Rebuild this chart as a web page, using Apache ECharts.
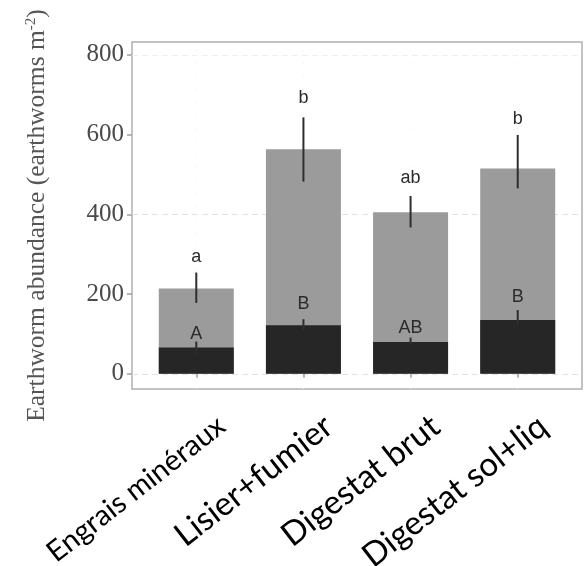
<!DOCTYPE html>
<html>
<head>
<meta charset="utf-8">
<script src="https://cdn.jsdelivr.net/npm/echarts@6/dist/echarts.min.js"></script>
<style>
  html, body { margin: 0; padding: 0; background: #ffffff; }
  #chart { width: 586px; height: 566px; }
</style>
</head>
<body>
<div id="chart"></div>
<script>
// Fertilisation treatments
const categories = ['Engrais minéraux', 'Lisier+fumier', 'Digestat brut', 'Digestat sol+liq'];

// Total earthworm abundance (light bars) with interval bounds
const totalMean = [214, 563, 405, 515];
const totalLow = [178, 482, 367, 465];
const totalHigh = [254, 643, 446, 599];
const totalLetters = ['a', 'b', 'ab', 'b'];
const totalLetterAt = [293, 691, 490, 640];

// Sub-group abundance (dark bars) with interval bounds
const groupMean = [66, 122, 80, 135];
const groupLow = [51, 110, 73, 122];
const groupHigh = [81, 137, 91, 160];
const groupLetters = ['A', 'B', 'AB', 'B'];
const groupLetterAt = [101, 175, 116, 193];

// Y-axis tick labels
const yTicks = [0, 200, 400, 600, 800];

const catPos = categories.map((_, i) => i + 1);

function pairs(vals) { return vals.map((v, i) => [catPos[i], v]); }

function errorBars(low, high) {
  return low.map((l, i) => [catPos[i], l, high[i]]);
}

function letterData(letters, at) {
  return letters.map((t, i) => [catPos[i], at[i], t]);
}

const chart = echarts.init(document.getElementById('chart'));

const errorRender = function (params, api) {
  const a = api.coord([api.value(0), api.value(1)]);
  const b = api.coord([api.value(0), api.value(2)]);
  return {
    type: 'line',
    shape: { x1: a[0], y1: a[1], x2: b[0], y2: b[1] },
    style: { stroke: '#2e2e2e', lineWidth: 2 }
  };
};

const letterRender = function (params, api) {
  const p = api.coord([api.value(0), api.value(1)]);
  return {
    type: 'text',
    x: p[0], y: p[1],
    style: {
      text: String(api.value(2)),
      fill: '#2b2b2b',
      font: '18px "Liberation Sans", Arial, sans-serif',
      align: 'center',
      verticalAlign: 'middle'
    }
  };
};

function buildOption(barW) {
  return {
    animation: false,
    backgroundColor: '#ffffff',
    grid: {
      left: 132, top: 42, right: 4, bottom: 177,
      outerBoundsMode: 'none',
      containLabel: false,
      show: true, borderColor: '#b0b0b0', borderWidth: 1.5, backgroundColor: 'transparent'
    },
    xAxis: {
      type: 'value', min: 0.4, max: 4.6,
      axisLine: { show: false },
      splitLine: { show: false },
      axisTick: {
        show: true, customValues: catPos, length: 4, inside: false,
        lineStyle: { color: '#a0a0a0', width: 1.5 }
      },
      axisLabel: {
        customValues: catPos,
        rotate: 38,
        margin: 53,
        align: 'right',
        verticalAlign: 'middle',
        padding: [0, -32, 0, 0],
        formatter: function (v) {
          const name = categories[Math.round(v) - 1];
          return Math.round(v) === 1 ? '{s|' + name + '}' : '{b|' + name + '}';
        },
        rich: {
          s: { fontFamily: 'Lato', fontSize: 29, color: '#000000' },
          b: { fontFamily: 'Lato', fontSize: 33, color: '#000000' }
        }
      }
    },
    yAxis: {
      type: 'value', min: -38, max: 832,
      axisLine: { show: false },
      splitLine: { show: false },
      axisTick: {
        show: true, customValues: yTicks, length: 5,
        lineStyle: { color: '#a0a0a0', width: 1.5 }
      },
      axisLabel: {
        customValues: yTicks,
        margin: 8,
        fontFamily: 'Liberation Serif', fontSize: 25, color: '#4a4a4a'
      },
      name: '{n|Earthworm abundance (earthworms m}{s|-2}{n|)}',
      nameLocation: 'middle',
      nameRotate: 90,
      nameGap: 82,
      nameTextStyle: {
        rich: {
          n: { fontFamily: 'Liberation Serif', fontSize: 25.5, color: '#555555' },
          s: { fontFamily: 'Liberation Serif', fontSize: 15, color: '#555555', verticalAlign: 'top' }
        }
      }
    },
    series: [
      {
        // background grid lines
        type: 'line', data: [], silent: true, z: 0,
        markLine: {
          silent: true, symbol: 'none', z: 0, label: { show: false },
          data: [
            { yAxis: 0, lineStyle: { color: '#e3e3e3', type: [6, 4], width: 1 } },
            { yAxis: 400, lineStyle: { color: '#e3e3e3', type: [6, 4], width: 1 } },
            { yAxis: 800, lineStyle: { color: '#efefef', type: [6, 4], width: 1 } },
            { xAxis: 1, lineStyle: { color: '#ededed', type: [1, 12], width: 1 } },
            { xAxis: 2, lineStyle: { color: '#ededed', type: [1, 12], width: 1 } },
            { xAxis: 3, lineStyle: { color: '#ededed', type: [1, 12], width: 1 } },
            { xAxis: 4, lineStyle: { color: '#ededed', type: [1, 12], width: 1 } }
          ]
        }
      },
      {
        name: 'total', type: 'bar', data: pairs(totalMean), barWidth: barW, barGap: '-100%', z: 2,
        itemStyle: { color: '#9b9b9b' }
      },
      {
        name: 'group', type: 'bar', data: pairs(groupMean), barWidth: barW, barGap: '-100%', z: 3,
        itemStyle: { color: '#262626' }
      },
      {
        type: 'custom', renderItem: errorRender, data: errorBars(totalLow, totalHigh), z: 4, silent: true
      },
      {
        type: 'custom', renderItem: errorRender, data: errorBars(groupLow, groupHigh), z: 4, silent: true
      },
      {
        type: 'custom', renderItem: letterRender, data: letterData(totalLetters, totalLetterAt), z: 5, silent: true
      },
      {
        type: 'custom', renderItem: letterRender, data: letterData(groupLetters, groupLetterAt), z: 5, silent: true
      }
    ]
  };
}

chart.setOption(buildOption(70));
// bar width = 70% of one category unit on the x scale
const unit = chart.convertToPixel({ xAxisIndex: 0 }, 2) - chart.convertToPixel({ xAxisIndex: 0 }, 1);
chart.setOption(buildOption(unit * 0.7));
</script>
</body>
</html>
